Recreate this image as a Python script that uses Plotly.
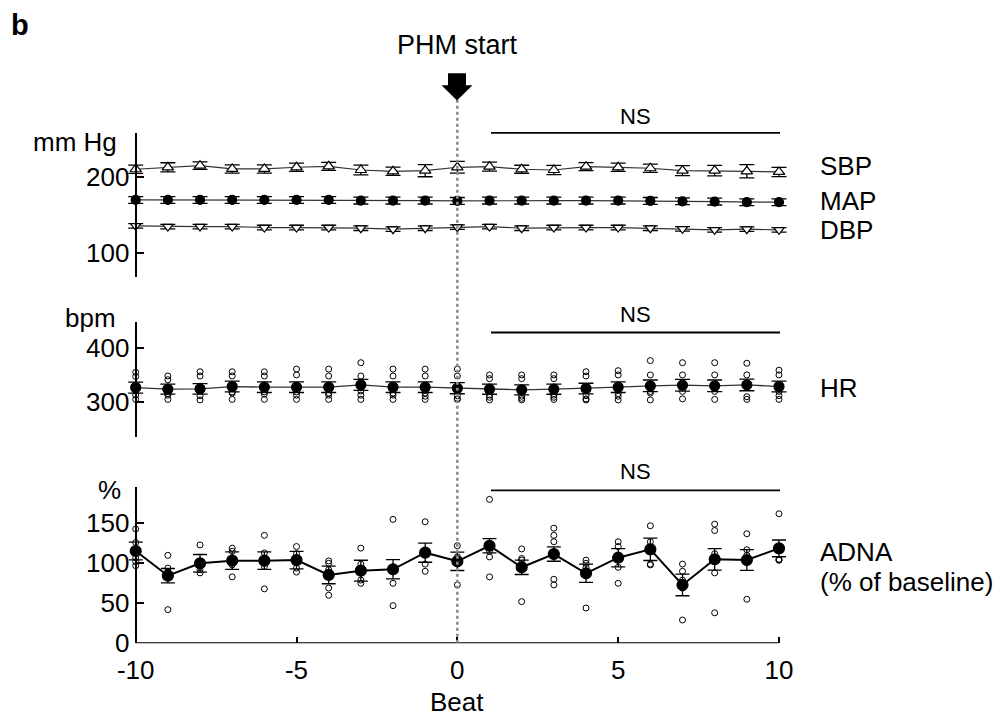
import plotly.graph_objects as go

# The page body keeps the browser's default 8px margin; the photographed page area is
# slightly taller than the window, so vertical positions are stretched by K.
OX, OY = 8, 8
CAP = 730
K = CAP / 715
W, H = 1002 - OX, CAP - 2 * OY
FONT = "Liberation Sans, Arial, Helvetica, sans-serif"

beats = list(range(-10, 11))

# ---- Blood pressure (mm Hg) ----
sbp_mean = [210.2, 212.8, 214.9, 210.6, 210.6, 212.8, 214.1, 209.2, 207.5, 208.3, 212.8,
            213.6, 210.2, 209.2, 213.6, 212.8, 211.5, 208.3, 208.3, 207.5, 206.6]
sbp_sem = [5.5, 6, 5, 5.5, 5.5, 5.5, 5.3, 6.5, 5.5, 8, 7.7,
           6, 5.3, 6, 5.3, 5.5, 5.5, 6.6, 7, 8.8, 6.2]
map_mean = [169.6, 169.6, 169.6, 169.6, 169.6, 169.6, 169.6, 168.7, 168.7, 168.7, 168.3,
            168.7, 168.7, 168.7, 168.7, 168.7, 168.3, 167.8, 167.4, 166.6, 166.6]
map_sem = [4.5] * 21
dbp_mean = [135.3, 134.4, 134.4, 134.4, 133.1, 133.1, 133.1, 132.2, 130.9, 132.2, 133.6,
            134.4, 132.2, 133.1, 133.1, 133.1, 132.2, 131.3, 130.0, 130.9, 130.0]
dbp_sem = [3] * 21

# ---- Heart rate (bpm) ----
hr_mean = [326.3, 323.2, 323.8, 328.2, 327, 327, 327, 331.3, 327, 327, 325.1,
           323.2, 322, 323.2, 324.4, 327, 329.5, 330.7, 329.5, 331.3, 328.2]
hr_sem = [10.3, 9.4, 10, 10, 10, 10, 10, 10.5, 10, 10, 10.5,
          9.5, 9.5, 9.5, 10, 10, 11, 11, 11, 11, 10]
hr_indiv = [
    [355, 347, 320, 312, 304], [348, 341, 315, 312, 304], [356, 348, 320, 311, 303],
    [356, 348, 318, 316, 304], [356, 348, 318, 314, 304], [361, 350, 318, 312, 304],
    [361, 348, 316, 312, 304], [373, 348, 320, 312, 304], [361, 348, 316, 312, 304],
    [361, 348, 316, 310, 304], [361, 348, 311, 304, 305], [350, 343, 312, 308, 303],
    [350, 343, 310, 306, 303], [350, 343, 312, 308, 304], [356, 348, 311, 303, 305],
    [358, 350, 315, 310, 303], [377, 350, 319, 316, 303], [373, 350, 328, 319, 305],
    [373, 350, 326, 319, 304], [372, 350, 330, 309, 304], [359, 350, 319, 311, 304],
]

# ---- ADNA (% of baseline) ----
adna_mean = [115.4, 84.5, 100, 103.3, 103.3, 104, 85.4, 90.8, 92.5, 113.3, 102.5,
             122, 95, 111.6, 87.5, 107, 117.5, 72.9, 105, 104.1, 118.7]
adna_sem = [11, 9, 11, 11, 11, 11, 11, 13, 12, 12, 11.5,
            9, 9, 9, 11.5, 11.5, 14, 13.5, 13.5, 13, 10.5]
adna_indiv = [
    [143, 126, 107, 102, 97], [110, 94, 88, 89, 42], [123, 102, 96, 92, 88],
    [119, 115, 104, 98, 83], [135, 113, 100, 96, 68], [121, 112, 104, 94, 89],
    [103, 100, 92, 69, 60], [119, 99, 90, 79, 75], [155, 93, 92, 75, 47],
    [152, 113, 112, 99, 90], [122, 108, 104, 99, 73], [180, 122, 115, 108, 83],
    [118, 106, 104, 95, 52], [144, 135, 127, 80, 73], [104, 100, 95, 87, 44],
    [127, 121, 108, 95, 75], [147, 127, 117, 99, 98], [99, 90, 79, 69, 29],
    [149, 141, 112, 88, 38], [137, 117, 110, 104, 55], [162, 119, 105, 104, 104],
]

y_ticks_bp = [100, 200]
y_ticks_hr = [300, 400]
y_ticks_adna = [0, 50, 100, 150]
x_ticks = [-10, -5, 0, 5, 10]
x_ticktext = ["-10", "-5", "0", "5", "10"]


def X(px):
    return (px - OX) / W


def Y(py):
    return 1 - (py * K - OY) / H


fig = go.Figure()


def flat(indiv):
    xs, ys = [], []
    for b, vals in zip(beats, indiv):
        for v in vals:
            xs.append(b)
            ys.append(v)
    return xs, ys


def mean_trace(y, sem, xa, ya, symbol, size, fill, lw, lcolor, capw):
    return go.Scatter(
        x=beats, y=y, xaxis=xa, yaxis=ya, mode="lines+markers",
        line=dict(color=lcolor, width=lw),
        marker=dict(symbol=symbol, size=size, color=fill, line=dict(color="black", width=1.2)),
        error_y=dict(type="data", array=sem, visible=True, color="black", thickness=1.3, width=capw),
        cliponaxis=False, showlegend=False, hoverinfo="skip",
    )


# top panel
fig.add_trace(mean_trace(sbp_mean, sbp_sem, "x", "y", "triangle-up", 10, "white", 1.2, "#333", 7.5))
fig.add_trace(mean_trace(map_mean, map_sem, "x", "y", "circle", 9, "black", 1.2, "#333", 7.5))
fig.add_trace(mean_trace(dbp_mean, dbp_sem, "x", "y", "triangle-down", 9, "white", 1.2, "#333", 7.5))

# middle panel
hx, hy = flat(hr_indiv)
fig.add_trace(mean_trace(hr_mean, hr_sem, "x2", "y2", "circle", 10, "black", 1.3, "#333", 7.5))
fig.add_trace(go.Scatter(x=hx, y=hy, xaxis="x2", yaxis="y2", mode="markers",
                         marker=dict(symbol="circle-open", size=6, color="black", line=dict(width=1)),
                         cliponaxis=False, showlegend=False, hoverinfo="skip"))

# bottom panel
ax_, ay_ = flat(adna_indiv)
fig.add_trace(mean_trace(adna_mean, adna_sem, "x3", "y3", "circle", 11, "black", 2, "black", 7))
fig.add_trace(go.Scatter(x=ax_, y=ay_, xaxis="x3", yaxis="y3", mode="markers",
                         marker=dict(symbol="circle-open", size=6, color="black", line=dict(width=1)),
                         cliponaxis=False, showlegend=False, hoverinfo="skip"))

xdom = [X(135.7 - 32.165), X(779 + 32.165)]
yaxis_pos = X(135.7)

common_x = dict(range=[-11, 11], domain=xdom, showgrid=False, zeroline=False, showline=False)
ycommon = dict(anchor="free", position=yaxis_pos, showgrid=False, zeroline=False, showline=True,
               linewidth=2, linecolor="black", ticks="inside", ticklen=7, tickwidth=1.5,
               tickcolor="black", tickfont=dict(size=26))
fig.update_layout(
    width=W, height=H, margin=dict(l=0, r=0, t=0, b=0),
    paper_bgcolor="white", plot_bgcolor="rgba(0,0,0,0)",
    font=dict(family=FONT, color="black", size=26),
    xaxis=dict(**common_x, anchor="y", visible=False),
    xaxis2=dict(**common_x, anchor="y2", visible=False),
    xaxis3=dict(**common_x, anchor="y3", tickvals=x_ticks, ticktext=x_ticktext, ticks="inside",
                ticklen=6, tickwidth=1.5, tickcolor="black", tickfont=dict(size=26),
                ticklabelstandoff=9),
    yaxis=dict(**ycommon, domain=[Y(276.7), Y(133)], range=[68, 258], tickvals=y_ticks_bp),
    yaxis2=dict(**ycommon, domain=[Y(436.7), Y(321.7)], range=[234, 450], tickvals=y_ticks_hr),
    yaxis3=dict(**ycommon, domain=[Y(643.3), Y(486.7)], range=[0, 196], tickvals=y_ticks_adna),
)

shapes = []
# bottom x axis line
shapes.append(dict(type="line", xref="x3", yref="y3", x0=-10, x1=10, y0=0, y1=0,
                   line=dict(color="black", width=2)))
# dotted vertical line
shapes.append(dict(type="line", xref="x3", yref="paper", x0=0, x1=0, y0=Y(643), y1=Y(100),
                   line=dict(color="#8c8c8c", width=2.6, dash="dot")))
# arrow
pts = [(448, 73), (466, 73), (466, 85), (472.5, 85), (457, 100.5), (441.5, 85), (448, 85)]
path = "M " + " L ".join(f"{X(px):.5f},{Y(py):.5f}" for px, py in pts) + " Z"
shapes.append(dict(type="path", xref="paper", yref="paper", path=path,
                   fillcolor="black", line=dict(color="black", width=0)))
# NS lines
for py in [132.7, 332.5, 490.5]:
    shapes.append(dict(type="line", xref="paper", yref="paper", x0=X(491), x1=X(780),
                       y0=Y(py), y1=Y(py), line=dict(color="black", width=1.8)))
fig.update_layout(shapes=shapes)

ann = []


def text(t, px, py, size=26, xanchor="center", bold=False):
    ann.append(dict(text=f"<b>{t}</b>" if bold else t, x=X(px), y=Y(py), xref="paper", yref="paper",
                    showarrow=False, xanchor=xanchor, yanchor="middle",
                    font=dict(size=size, family=FONT, color="black")))


text("b", 9, 25, size=29, xanchor="left", bold=True)
text("PHM start", 457, 45, size=27)
for py in [116, 314, 472]:
    text("NS", 635, py, size=22)
text("mm Hg", 119, 142, size=26, xanchor="right")
text("bpm", 118, 318, size=26, xanchor="right")
text("%", 123, 490, size=26, xanchor="right")
text("SBP", 818, 166, size=26, xanchor="left")
text("MAP", 818, 201, size=26, xanchor="left")
text("DBP", 818, 230, size=26, xanchor="left")
text("HR", 818, 388, size=26, xanchor="left")
text("ADNA", 818, 552, size=26, xanchor="left")
text("(% of baseline)", 818, 582, size=26, xanchor="left")
text("Beat", 457, 702, size=26)
fig.update_layout(annotations=ann)

fig.write_html("out.html", config={"displayModeBar": False})
